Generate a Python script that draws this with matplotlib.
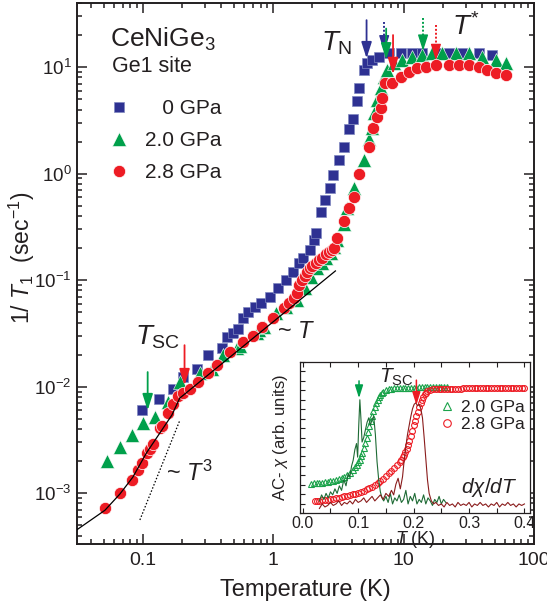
import numpy as np
import matplotlib
matplotlib.use('Agg')
import matplotlib.pyplot as plt
from matplotlib import ticker

plt.rcParams['font.family'] = ['Liberation Sans', 'DejaVu Sans']
plt.rcParams['mathtext.fontset'] = 'custom'
plt.rcParams['mathtext.rm'] = 'Liberation Sans'
plt.rcParams['mathtext.it'] = 'Liberation Sans:italic'
plt.rcParams['mathtext.bf'] = 'Liberation Sans:bold'
plt.rcParams['mathtext.sf'] = 'Liberation Sans'
TXT = '#231f20'

# ---------------- main data: 1/T1 vs T ----------------
T_0 = [0.098, 0.133, 0.170, 0.202, 0.259, 0.314, 0.402, 0.439, 0.488, 0.533, 0.582, 0.636,
       0.719, 0.813, 0.937, 1.08, 1.26, 1.41, 1.59, 1.68, 1.90, 2.07, 2.14, 2.34, 2.51, 2.74,
       2.89, 3.21, 3.51, 3.83, 4.11, 4.41, 4.57, 5.00, 5.27, 5.75, 6.50, 7.76, 9.59, 11.6,
       13.9, 17.7, 22.3, 28.1, 37.9, 47.6]
R_0 = [6.0e-3, 7.7e-3, 9.6e-3, 1.23e-2, 1.45e-2, 2.0e-2, 2.3e-2, 2.9e-2, 3.2e-2, 3.5e-2, 4.4e-2, 5.0e-2,
       5.6e-2, 6.1e-2, 6.9e-2, 8.4e-2, 0.100, 0.119, 0.145, 0.160, 0.190, 0.240, 0.280, 0.440, 0.560, 0.730,
       0.970, 1.34, 1.77, 2.6, 3.25, 4.8, 6.3, 9.4, 10.9, 11.6, 12.4, 13.5, 13.5, 13.5,
       13.5, 13.5, 13.5, 13.5, 13.5, 13.0]

T_20 = [0.053, 0.067, 0.082, 0.100, 0.124, 0.155, 0.192, 0.273, 0.337, 0.409, 0.524, 0.552,
        0.745, 0.785, 0.857, 1.06, 1.25, 1.51, 1.74, 1.96, 2.18, 2.35, 2.56, 2.79, 2.95, 3.10,
        3.51, 3.70, 4.19, 5.00, 5.46, 5.75, 5.96, 6.28, 6.74, 7.11, 7.49, 8.47, 9.75, 11.6,
        13.9, 16.6, 19.7, 25.2, 31.8, 39.9, 51.1, 61.0]
R_20 = [2.0e-3, 2.7e-3, 3.5e-3, 4.6e-3, 5.2e-3, 7.1e-3, 1.1e-2, 1.35e-2, 1.45e-2, 2.0e-2, 2.3e-2, 2.4e-2,
        3.2e-2, 3.4e-2, 3.6e-2, 4.9e-2, 5.6e-2, 6.5e-2, 8.4e-2, 0.107, 0.130, 0.145, 0.160, 0.180, 0.205, 0.240,
        0.340, 0.480, 0.730, 1.34, 2.1, 2.7, 3.7, 4.9, 6.3, 8.1, 9.4, 10.9, 11.6, 12.4,
        13.0, 13.5, 13.5, 13.5, 13.5, 12.4, 11.6, 10.9]

T_28 = [0.051, 0.067, 0.082, 0.092, 0.098, 0.107, 0.113, 0.119, 0.135, 0.140, 0.155, 0.170,
        0.185, 0.202, 0.229, 0.264, 0.314, 0.368, 0.463, 0.582, 0.694, 0.828, 0.988, 1.22,
        1.33, 1.45, 1.51, 1.59, 1.65, 1.74, 1.82, 1.90, 2.00, 2.14, 2.25, 2.38, 2.55, 2.70,
        2.80, 2.94, 3.10, 3.51, 3.83, 4.19, 4.57, 5.46, 5.85, 6.28, 6.74, 6.86, 7.23, 8.18,
        9.59, 11.0, 12.7, 14.9, 17.7, 22.3, 26.6, 31.8, 37.9, 43.6, 51.1, 61.0]
R_28 = [7.2e-4, 1.0e-3, 1.32e-3, 1.64e-3, 1.9e-3, 2.4e-3, 2.6e-3, 2.9e-3, 4.1e-3, 4.3e-3, 5.7e-3, 6.8e-3,
        8.1e-3, 8.8e-3, 9.6e-3, 1.1e-2, 1.35e-2, 1.6e-2, 2.1e-2, 2.6e-2, 3.0e-2, 3.6e-2, 4.4e-2, 5.5e-2,
        6.1e-2, 6.8e-2, 7.5e-2, 9.0e-2, 0.100, 0.110, 0.120, 0.130, 0.137, 0.145, 0.155, 0.163, 0.175, 0.183,
        0.190, 0.200, 0.250, 0.360, 0.480, 0.600, 0.990, 1.77, 2.7, 3.4, 4.1, 5.1, 7.1, 7.1,
        8.1, 9.0, 9.8, 10.0, 10.4, 10.4, 10.4, 10.4, 10.0, 9.4, 8.8, 8.4]

# fit line (solid) and ~T^3 guide (dotted)
fit_T = [0.031, 0.0512, 0.0667, 0.0838, 0.107, 0.135, 0.167, 0.192, 3.0]
fit_R = [4.5e-4, 6.9e-4, 9.8e-4, 1.41e-3, 2.4e-3, 3.66e-3, 5.4e-3, 7.8e-3, 0.122]
t3_T = [0.095, 0.192]
t3_R = [5.6e-4, 4.8e-3]

# arrows (T, top value, tip value, colour, style)
arr_T = [5.2, 7.1, 7.35, 8.3, 14.1, 17.7, 0.209, 0.109]
arr_top = [27.6, 26.5, 23.0, 20.0, 28.8, 24.8, 0.0245, 0.0137]
arr_tip = [12.1, 14.0, 11.8, 8.6, 14.2, 11.6, 0.0103, 0.0060]
arr_col = ['#2e3192', '#2e3192', '#00a04b', '#ed1c24', '#00a04b', '#ed1c24', '#ed1c24', '#00a04b']
arr_ls = ['-', ':', '-', '-', ':', ':', '-', '-']

x_ticks = [0.1, 1, 10, 100]
x_labels = ['0.1', '1', '10', '100']
y_ticks = [1e-3, 1e-2, 1e-1, 1e0, 1e1]
y_labels = [r'$10^{-3}$', r'$10^{-2}$', r'$10^{-1}$', r'$10^{0}$', r'$10^{1}$']
series_labels = ['   0 GPa', '2.0 GPa', '2.8 GPa']

# ---------------- inset data: AC chi vs T ----------------
chi20_T = [0.015, 0.020, 0.025, 0.030, 0.035, 0.040, 0.045, 0.050, 0.055, 0.060, 0.065, 0.070,
           0.075, 0.080, 0.085, 0.090, 0.095, 0.0975, 0.100, 0.1025, 0.105, 0.1075, 0.110, 0.1125,
           0.115, 0.1175, 0.120, 0.1225, 0.125, 0.1275, 0.130, 0.1325, 0.135, 0.1375, 0.140, 0.1425,
           0.145, 0.150, 0.155, 0.160, 0.165, 0.170, 0.175, 0.180, 0.185, 0.190, 0.195, 0.200,
           0.205, 0.210, 0.215, 0.220, 0.225, 0.230, 0.235, 0.240, 0.245, 0.250, 0.255, 0.260]
chi20 = [0.195, 0.196, 0.197, 0.199, 0.201, 0.203, 0.206, 0.209, 0.213, 0.218, 0.224, 0.231,
         0.240, 0.251, 0.265, 0.283, 0.306, 0.320, 0.335, 0.353, 0.375, 0.400, 0.430, 0.465,
         0.500, 0.538, 0.575, 0.610, 0.645, 0.677, 0.705, 0.730, 0.750, 0.768, 0.783, 0.794,
         0.803, 0.815, 0.820, 0.823, 0.825, 0.826, 0.827, 0.828, 0.829, 0.830, 0.830, 0.831,
         0.831, 0.832, 0.832, 0.833, 0.833, 0.834, 0.834, 0.835, 0.835, 0.836, 0.836, 0.836]

chi28_T = [0.022, 0.025, 0.030, 0.035, 0.040, 0.045, 0.050, 0.055, 0.060, 0.065, 0.070, 0.075,
           0.080, 0.085, 0.090, 0.095, 0.100, 0.105, 0.110, 0.115, 0.120, 0.125, 0.130, 0.135,
           0.140, 0.145, 0.150, 0.155, 0.160, 0.165, 0.170, 0.175, 0.1775, 0.180, 0.1825, 0.185,
           0.1875, 0.190, 0.1925, 0.195, 0.1975, 0.200, 0.2025, 0.205, 0.2075, 0.210, 0.2125, 0.215,
           0.2175, 0.220, 0.2225, 0.225, 0.230, 0.235, 0.240, 0.245, 0.250, 0.255, 0.260, 0.265,
           0.270, 0.275, 0.280, 0.285, 0.290, 0.295, 0.300, 0.305, 0.310, 0.315, 0.320, 0.325,
           0.330, 0.335, 0.340, 0.345, 0.350, 0.355, 0.360, 0.365, 0.370, 0.375, 0.380, 0.385,
           0.390, 0.395, 0.400]
chi28 = [0.079, 0.080, 0.082, 0.084, 0.086, 0.089, 0.092, 0.095, 0.098, 0.102, 0.106, 0.110,
         0.114, 0.119, 0.124, 0.129, 0.135, 0.141, 0.148, 0.156, 0.165, 0.175, 0.186, 0.198,
         0.212, 0.228, 0.245, 0.262, 0.280, 0.300, 0.320, 0.340, 0.354, 0.370, 0.387, 0.405,
         0.427, 0.450, 0.480, 0.510, 0.545, 0.580, 0.610, 0.640, 0.670, 0.700, 0.726, 0.750,
         0.768, 0.785, 0.796, 0.805, 0.815, 0.820, 0.822, 0.823, 0.823, 0.823, 0.824, 0.824,
         0.824, 0.824, 0.824, 0.824, 0.825, 0.825, 0.825, 0.825, 0.825, 0.825, 0.825, 0.825,
         0.825, 0.825, 0.825, 0.825, 0.825, 0.825, 0.825, 0.825, 0.825, 0.825, 0.825, 0.825,
         0.825, 0.825, 0.825]

d20_T = [0.030, 0.034, 0.038, 0.042, 0.046, 0.050, 0.054, 0.058, 0.062, 0.066, 0.070, 0.074,
         0.078, 0.082, 0.085, 0.088, 0.091, 0.094, 0.097, 0.099, 0.101, 0.103, 0.105, 0.107,
         0.110, 0.113, 0.116, 0.119, 0.122, 0.125, 0.128, 0.131, 0.134, 0.137, 0.140, 0.143,
         0.146, 0.150, 0.154, 0.158, 0.162, 0.166, 0.170, 0.174, 0.178, 0.182, 0.186, 0.190,
         0.194, 0.198, 0.202, 0.206, 0.210, 0.214, 0.218, 0.222, 0.226, 0.230, 0.234, 0.238,
         0.242, 0.246, 0.250, 0.254, 0.258]
d20 = [0.08, 0.12, 0.09, 0.13, 0.10, 0.14, 0.12, 0.16, 0.13, 0.18, 0.15, 0.22,
       0.18, 0.26, 0.24, 0.31, 0.35, 0.42, 0.46, 0.37, 0.58, 0.75, 0.62, 0.47,
       0.50, 0.55, 0.60, 0.63, 0.58, 0.62, 0.64, 0.52, 0.34, 0.22, 0.14, 0.10,
       0.08, 0.11, 0.07, 0.13, 0.06, 0.10, 0.08, 0.12, 0.07, 0.09, 0.15, 0.06,
       0.11, 0.08, 0.13, 0.06, 0.09, 0.07, 0.12, 0.06, 0.10, 0.08, 0.05, 0.09,
       0.07, 0.11, 0.06, 0.09, 0.07]

d28_T = [0.030, 0.035, 0.040, 0.045, 0.050, 0.055, 0.060, 0.065, 0.070, 0.075, 0.080, 0.085,
         0.090, 0.095, 0.100, 0.105, 0.110, 0.115, 0.120, 0.125, 0.130, 0.135, 0.140, 0.145,
         0.150, 0.155, 0.160, 0.164, 0.168, 0.172, 0.176, 0.180, 0.183, 0.186, 0.189, 0.192,
         0.195, 0.198, 0.201, 0.204, 0.207, 0.210, 0.213, 0.216, 0.219, 0.222, 0.225, 0.228,
         0.232, 0.236, 0.240, 0.245, 0.250, 0.255, 0.260, 0.265, 0.270, 0.275, 0.280, 0.285,
         0.290, 0.295, 0.300, 0.305, 0.310, 0.315, 0.320, 0.325, 0.330, 0.335, 0.340, 0.345,
         0.350, 0.355, 0.360, 0.365, 0.370, 0.375, 0.380, 0.385, 0.390, 0.395, 0.400]
d28 = [0.03, 0.06, 0.04, 0.05, 0.07, 0.05, 0.06, 0.08, 0.05, 0.07, 0.06, 0.08,
       0.06, 0.09, 0.07, 0.08, 0.10, 0.07, 0.09, 0.11, 0.08, 0.10, 0.12, 0.09,
       0.13, 0.11, 0.15, 0.12, 0.19, 0.23, 0.16, 0.24, 0.35, 0.44, 0.52, 0.58,
       0.64, 0.69, 0.72, 0.73, 0.71, 0.72, 0.69, 0.63, 0.50, 0.36, 0.22, 0.13,
       0.08, 0.06, 0.07, 0.05, 0.06, 0.04, 0.07, 0.05, 0.06, 0.04, 0.07, 0.05,
       0.06, 0.05, 0.07, 0.04, 0.06, 0.05, 0.07, 0.05, 0.06, 0.04, 0.06, 0.05,
       0.07, 0.04, 0.06, 0.05, 0.07, 0.05, 0.06, 0.04, 0.06, 0.05, 0.06]

in_arr_T = [0.1015, 0.205]
in_arr_top = [0.875, 0.88]
in_arr_tip = [0.76, 0.715]
in_arr_col = ['#00a04b', '#ed1c24']
inset_labels = ['2.0 GPa', '2.8 GPa']

# ---------------- figure ----------------
fig = plt.figure(figsize=(5.47, 6.07), dpi=100)
ax = fig.add_axes([77/547, 1-544/607, 457/547, 541/607])
ax.set_xscale('log')
ax.set_yscale('log')
ax.set_xlim(0.0313, 100)
ax.set_ylim(3.33e-4, 40)

BLUE, GREEN, RED = '#2e3192', '#00a04b', '#ed1c24'
h0, = ax.plot(T_0, R_0, ls='none', marker='s', ms=7.6, color=BLUE, mec='#8088c0', mew=0.5,
              label=series_labels[0], zorder=3)
h1, = ax.plot(T_20, R_20, ls='none', marker='^', ms=9.5, color=GREEN, mec='white', mew=0.4,
              label=series_labels[1], zorder=4)
h2, = ax.plot(T_28, R_28, ls='none', marker='o', ms=8.8, color=RED, mec='white', mew=0.5,
              label=series_labels[2], zorder=5)
ax.plot(fit_T, fit_R, color='black', lw=0.9, zorder=6)
ax.plot(t3_T, t3_R, color='black', lw=0.9, ls=(0, (1.2, 1.5)), zorder=6)

for x, top, tip, c, ls in zip(arr_T, arr_top, arr_tip, arr_col, arr_ls):
    if ls == '-':
        ax.annotate('', xy=(x, tip), xytext=(x, top),
                    arrowprops=dict(arrowstyle='-|>,head_length=0.75,head_width=0.24',
                                    color=c, lw=1.3, shrinkA=0, shrinkB=0, mutation_scale=13),
                    zorder=7)
    else:
        ax.plot([x, x], [top, tip * 1.3], color=c, lw=1.4, ls=(0, (1.0, 1.0)), zorder=7)
        ax.annotate('', xy=(x, tip), xytext=(x, tip * 1.34),
                    arrowprops=dict(arrowstyle='-|>,head_length=0.75,head_width=0.24',
                                    color=c, lw=1.0, shrinkA=0, shrinkB=0, mutation_scale=13),
                    zorder=7)

ax.xaxis.set_major_locator(ticker.FixedLocator(x_ticks))
ax.xaxis.set_major_formatter(ticker.FixedFormatter(x_labels))
ax.yaxis.set_major_locator(ticker.FixedLocator(y_ticks))
ax.yaxis.set_major_formatter(ticker.FixedFormatter(y_labels))
ax.xaxis.set_minor_locator(ticker.LogLocator(base=10, subs=np.arange(2, 10), numticks=20))
ax.yaxis.set_minor_locator(ticker.LogLocator(base=10, subs=np.arange(2, 10), numticks=20))
ax.xaxis.set_minor_formatter(ticker.NullFormatter())
ax.yaxis.set_minor_formatter(ticker.NullFormatter())
ax.tick_params(which='both', direction='in', top=True, right=True, width=1.1, color=TXT)
ax.tick_params(which='major', length=7)
ax.tick_params(which='minor', length=3.5)
ax.tick_params(axis='x', labelsize=14, pad=6, labelcolor=TXT)
ax.tick_params(axis='y', labelsize=13.5, pad=4, labelcolor=TXT)
for s in ax.spines.values():
    s.set_linewidth(1.4)
    s.set_color(TXT)

ax.set_xlabel('Temperature (K)', fontsize=17, color=TXT, labelpad=7)
fig.text(22/547, 1-258/607, r'1/ $T_1$  (sec$^{\mathregular{-1}}$)', rotation=90,
         fontsize=16.5, color=TXT, ha='center', va='center')

ax.text(0.072, 0.932, r'CeNiGe$_3$', transform=ax.transAxes, fontsize=19, color=TXT,
        ha='left', va='center')
ax.text(0.077, 0.882, 'Ge1 site', transform=ax.transAxes, fontsize=15.5, color=TXT,
        ha='left', va='center')
leg = ax.legend(handles=[h0, h1, h2], loc='upper left', bbox_to_anchor=(0.069, 0.822),
                frameon=False, fontsize=15, handlelength=1.0, handletextpad=0.75,
                labelspacing=0.62, borderpad=0, borderaxespad=0)
for t in leg.get_texts():
    t.set_color(TXT)

ax.text(3.05, 16.8, r'$T_{\rm N}$', fontsize=20, color=TXT, ha='center', va='center')
ax.text(30, 23.7, r'$T^{*}$', fontsize=20, color=TXT, ha='center', va='center')
ax.text(0.13, 0.0292, r'$T_{\rm SC}$', fontsize=20, color=TXT, ha='center', va='center')
ax.text(0.229, 1.54e-3, r'~ $T^{3}$', fontsize=17, color=TXT, ha='center', va='center')
ax.text(1.51, 0.0325, r'~ $T$', fontsize=17, color=TXT, ha='center', va='center')

# ---------------- inset ----------------
axi = fig.add_axes([300/547, 1-513/607, 230/547, 151/607])
axi.set_facecolor('white')
axi.set_xlim(-0.005, 0.41)
axi.set_ylim(0, 1)
DG, DR = '#1e6b35', '#8a1c1c'
g1, = axi.plot(chi20_T, chi20, ls='none', marker='^', ms=4.2, mfc='none', mec='#1ba34b',
               mew=0.8, label=inset_labels[0], zorder=2)
g2, = axi.plot(chi28_T, chi28, ls='none', marker='o', ms=4.2, mfc='none', mec=RED,
               mew=0.8, label=inset_labels[1], zorder=2)
axi.plot(d20_T, d20, color=DG, lw=0.8, zorder=3)
axi.plot(d28_T, d28, color=DR, lw=0.8, zorder=3)
for x, top, tip, c in zip(in_arr_T, in_arr_top, in_arr_tip, in_arr_col):
    axi.annotate('', xy=(x, tip), xytext=(x, top),
                 arrowprops=dict(arrowstyle='-|>,head_length=0.7,head_width=0.22',
                                 color=c, lw=1.1, shrinkA=0, shrinkB=0, mutation_scale=11),
                 zorder=5)
axi.xaxis.set_major_locator(ticker.MultipleLocator(0.1))
axi.xaxis.set_minor_locator(ticker.MultipleLocator(0.05))
axi.xaxis.set_major_formatter(ticker.FormatStrFormatter('%.1f'))
axi.yaxis.set_major_locator(ticker.MultipleLocator(1/16))
axi.yaxis.set_major_formatter(ticker.NullFormatter())
axi.tick_params(which='both', direction='in', top=True, right=False, length=3.5, width=0.8,
                color=TXT)
axi.tick_params(axis='x', labelsize=11.5, pad=2, labelcolor=TXT)
for s in axi.spines.values():
    s.set_linewidth(0.9)
    s.set_color(TXT)
axi.set_xlabel(r'$T$ (K)', fontsize=13, color=TXT, labelpad=-1)
axi.set_ylabel(r'AC- $\chi$ (arb. units)', fontsize=12, color=TXT, labelpad=4)
axi.text(0.169, 0.90, r'$T_{\rm SC}$', fontsize=15, color=TXT, ha='center', va='center')
axi.text(0.337, 0.17, r'$d\chi/dT$', fontsize=15, color=TXT, ha='center', va='center')
leg2 = axi.legend(handles=[g1, g2], loc='upper left', bbox_to_anchor=(0.61, 0.75),
                  frameon=False, fontsize=12.5, handlelength=0.8, handletextpad=0.4,
                  labelspacing=0.1, borderpad=0, borderaxespad=0, markerscale=1.3)
for t in leg2.get_texts():
    t.set_color(TXT)

fig.savefig('out.png', dpi=100)
